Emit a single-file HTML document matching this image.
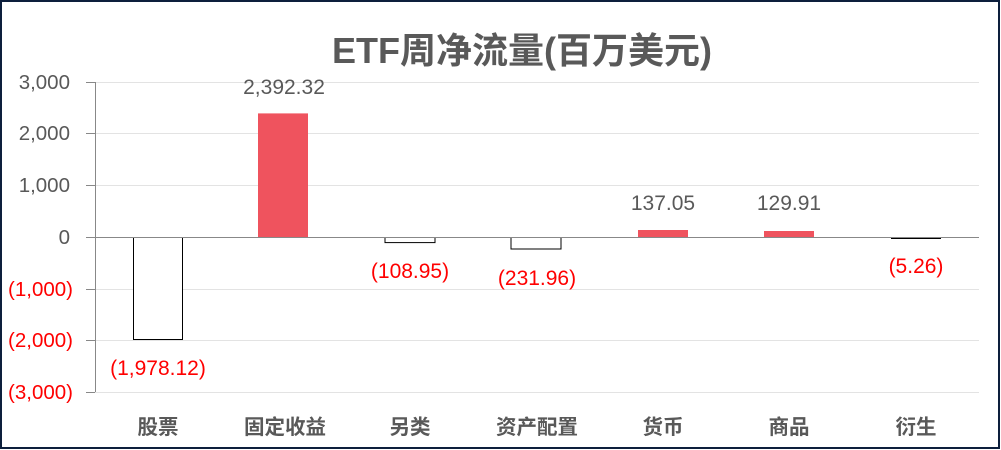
<!DOCTYPE html>
<html><head><meta charset="utf-8"><style>
html,body{margin:0;padding:0;background:#fff}
svg{display:block}
text{font-family:"Liberation Sans","Noto Sans CJK SC",sans-serif}
</style></head><body>
<svg width="1001" height="450" viewBox="0 0 1001 450">
<rect x="1" y="1" width="998" height="447" fill="#fff" stroke="#0d1f3c" stroke-width="2"/>
<text x="522" y="63" text-anchor="middle" font-size="36" font-weight="bold" fill="#595959">ETF周净流量(百万美元)</text>
<g stroke="#e3e3e3" stroke-width="1">
<line x1="95" x2="979" y1="82.5" y2="82.5"/>
<line x1="95" x2="979" y1="133.5" y2="133.5"/>
<line x1="95" x2="979" y1="185.5" y2="185.5"/>
<line x1="95" x2="979" y1="289.5" y2="289.5"/>
<line x1="95" x2="979" y1="340.5" y2="340.5"/>
<line x1="95" x2="979" y1="392.5" y2="392.5"/>
</g>
<g stroke="#888" stroke-width="1">
<line x1="95.5" x2="95.5" y1="82" y2="392"/>
<line x1="86" x2="95" y1="82.5" y2="82.5"/>
<line x1="86" x2="95" y1="133.5" y2="133.5"/>
<line x1="86" x2="95" y1="185.5" y2="185.5"/>
<line x1="86" x2="95" y1="237.5" y2="237.5"/>
<line x1="86" x2="95" y1="289.5" y2="289.5"/>
<line x1="86" x2="95" y1="340.5" y2="340.5"/>
<line x1="86" x2="95" y1="392.5" y2="392.5"/>
</g>
<g font-size="20.5" text-anchor="end">
<text x="70" y="89" fill="#595959">3,000</text>
<text x="70" y="140" fill="#595959">2,000</text>
<text x="70" y="192" fill="#595959">1,000</text>
<text x="70" y="244" fill="#595959">0</text>
<text x="73" y="296" fill="#ff0000">(1,000)</text>
<text x="73" y="347" fill="#ff0000">(2,000)</text>
<text x="73" y="399" fill="#ff0000">(3,000)</text>
</g>
<rect x="133.5" y="237.5" width="49" height="102" fill="#fff" stroke="#000" stroke-width="1"/>
<rect x="258" y="113.4" width="50" height="123.6" fill="#ef535e"/>
<rect x="385" y="237.5" width="50" height="5.1" fill="#fff" stroke="#000" stroke-width="1"/>
<rect x="511" y="237.5" width="50" height="11.5" fill="#fff" stroke="#000" stroke-width="1"/>
<rect x="638" y="230" width="50" height="7" fill="#ef535e"/>
<rect x="764" y="231" width="50" height="6.5" fill="#ef535e"/>
<line x1="891" x2="941" y1="238.5" y2="238.5" stroke="#000" stroke-width="1"/>
<line x1="95" x2="979" y1="237.5" y2="237.5" stroke="#888" stroke-width="1"/>
<g font-size="21" text-anchor="middle">
<text x="158" y="375" fill="#ff0000">(1,978.12)</text>
<text x="284" y="94" fill="#595959">2,392.32</text>
<text x="410" y="278" fill="#ff0000">(108.95)</text>
<text x="537" y="285" fill="#ff0000">(231.96)</text>
<text x="663" y="210" fill="#595959">137.05</text>
<text x="789" y="210" fill="#595959">129.91</text>
<text x="916" y="273" fill="#ff0000">(5.26)</text>
</g>
<g font-size="20.5" font-weight="bold" text-anchor="middle" fill="#595959">
<text x="158" y="434">股票</text>
<text x="285" y="434">固定收益</text>
<text x="410" y="434">另类</text>
<text x="537" y="434">资产配置</text>
<text x="663" y="434">货币</text>
<text x="789" y="434">商品</text>
<text x="916" y="434">衍生</text>
</g>
</svg>
</body></html>
